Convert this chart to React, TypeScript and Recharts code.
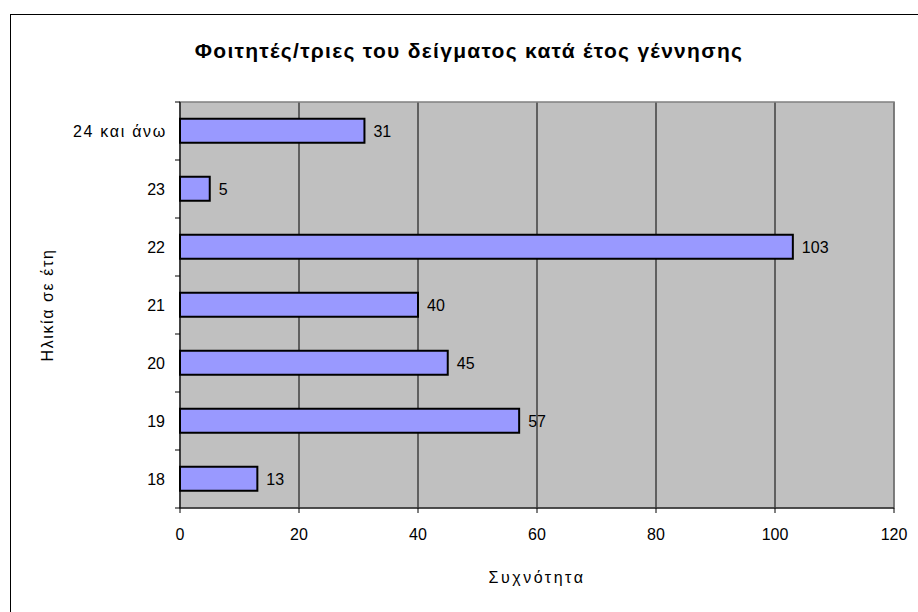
import {
  BarChart,
  Bar,
  XAxis,
  YAxis,
  CartesianGrid,
  ReferenceArea,
  LabelList,
  Label,
} from "recharts";

const ages = ["24 και άνω", "23", "22", "21", "20", "19", "18"];
const counts = [31, 5, 103, 40, 45, 57, 13];
const xTicks = [0, 20, 40, 60, 80, 100, 120];

const title = "Φοιτητές/τριες του δείγματος κατά έτος γέννησης";
const xTitle = "Συχνότητα";
const yTitle = "Ηλικία σε έτη";

const font = "'Liberation Sans', Arial, sans-serif";

const data = ages.map((a, i) => ({ age: a, count: counts[i] }));

// Excel-style category ticks: label at band centre, tick marks on band edges
function AgeTick(props: any) {
  const { x, y, payload, index } = props;
  const half = payload.offset ?? 0;
  const ax = x + 15;
  const greek = /[^0-9\s]/.test(String(payload.value));
  return (
    <g>
      <line x1={ax - 5} x2={ax} y1={y - half} y2={y - half} stroke="#000" />
      {index === ages.length - 1 && (
        <line x1={ax - 5} x2={ax} y1={y + half} y2={y + half} stroke="#000" />
      )}
      <text
        x={greek ? x + 2 : x}
        y={y}
        dy={6}
        textAnchor="end"
        fontSize={16}
        fontFamily={font}
        fill="#000"
        letterSpacing={greek ? 1.7 : 0}
      >
        {payload.value}
      </text>
    </g>
  );
}

export default function App() {
  return (
    <div
      style={{
        position: "absolute",
        left: 0,
        top: 0,
        width: 918,
        height: 612,
        background: "#fff",
        overflow: "hidden",
      }}
    >
      <div
        style={{
          position: "absolute",
          left: 10,
          top: 14,
          width: 940,
          height: 640,
          border: "1px solid #000",
        }}
      />
      <div
        style={{
          position: "absolute",
          left: 0,
          top: 39,
          width: 938,
          textAlign: "center",
          fontFamily: font,
          fontWeight: "bold",
          fontSize: 21,
          letterSpacing: 1.3,
          color: "#000",
        }}
      >
        {title}
      </div>
      <div style={{ position: "absolute", left: 0, top: 0 }}>
        <BarChart
          width={918}
          height={612}
          data={data}
          layout="vertical"
          margin={{ top: 102, right: 24, bottom: 24, left: 0 }}
          barCategoryGap="29%"
        >
          <CartesianGrid
            horizontal={false}
            stroke="#000"
            fill="#C0C0C0"
            fillOpacity={1}
          />
          <ReferenceArea
            x1={0}
            x2={120}
            fill="none"
            stroke="#808080"
            strokeWidth={1.5}
            ifOverflow="extendDomain"
          />
          <XAxis
            type="number"
            domain={[0, 120]}
            ticks={xTicks}
            interval={0}
            stroke="#000"
            tickSize={5}
            tickMargin={16}
            height={80}
            tick={{ fontSize: 16, fontFamily: font, fill: "#000" }}
          >
            <Label
              value={xTitle}
              position="insideBottom"
              offset={5}
              style={{
                fontSize: 16,
                fontFamily: font,
                fill: "#000",
                letterSpacing: 2.5,
              }}
            />
          </XAxis>
          <YAxis
            type="category"
            dataKey="age"
            width={180}
            stroke="#000"
            tickLine={false}
            tickSize={0}
            tickMargin={15}
            interval={0}
            tick={<AgeTick />}
          >
            <Label
              value={yTitle}
              angle={-90}
              position="insideLeft"
              offset={47}
              style={{
                fontSize: 16,
                fontFamily: font,
                fill: "#000",
                textAnchor: "middle",
                letterSpacing: 1.6,
              }}
            />
          </YAxis>
          <Bar
            dataKey="count"
            fill="#9999FF"
            stroke="#000"
            strokeWidth={2}
            isAnimationActive={false}
          >
            <LabelList
              dataKey="count"
              position="right"
              offset={9}
              style={{ fontSize: 16, fontFamily: font, fill: "#000" }}
            />
          </Bar>
        </BarChart>
      </div>
    </div>
  );
}
